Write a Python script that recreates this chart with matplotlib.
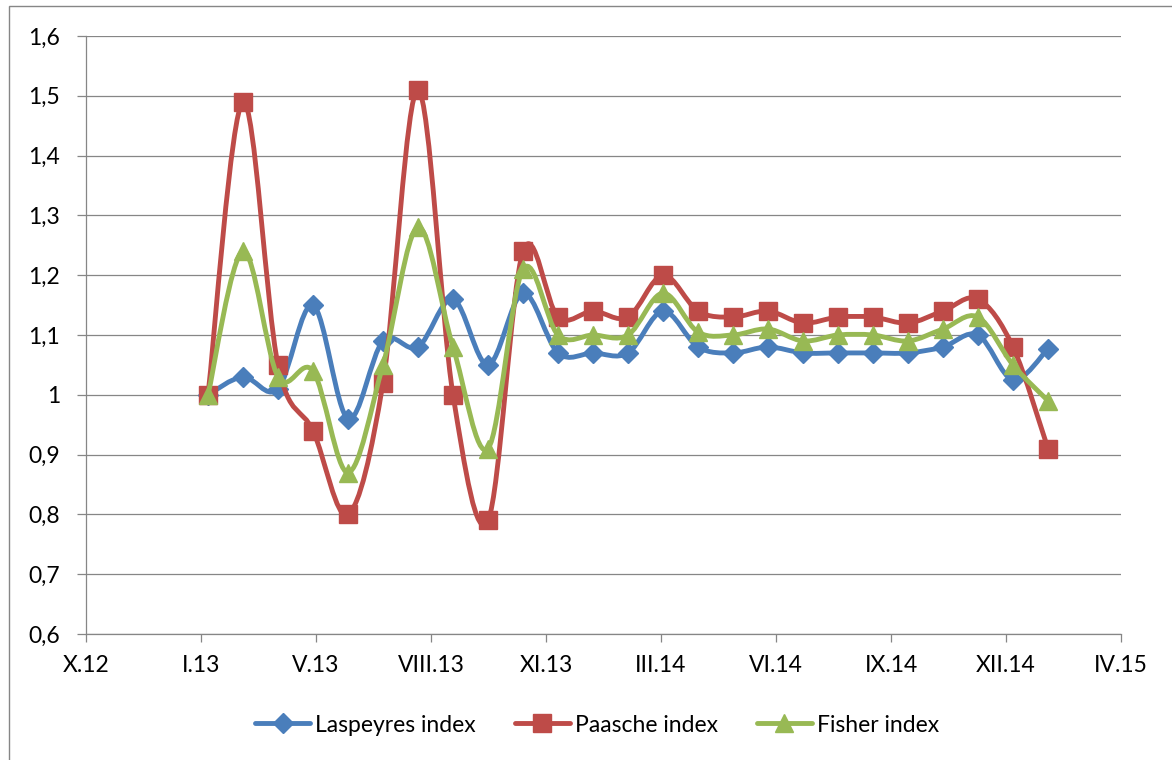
import numpy as np
import matplotlib
matplotlib.use("Agg")
import matplotlib.pyplot as plt
from matplotlib.path import Path
from matplotlib.patches import PathPatch, Rectangle
from matplotlib.lines import Line2D

# ---- data (monthly, I.2013 .. I.2015) ----
laspeyres = [1.00, 1.03, 1.01, 1.15, 0.96, 1.09, 1.08, 1.16, 1.05, 1.17, 1.07, 1.07, 1.07,
             1.14, 1.08, 1.07, 1.08, 1.07, 1.07, 1.07, 1.07, 1.08, 1.10, 1.025, 1.077]
paasche = [1.00, 1.49, 1.05, 0.94, 0.80, 1.02, 1.51, 1.00, 0.79, 1.24, 1.13, 1.14, 1.13,
           1.20, 1.14, 1.13, 1.14, 1.12, 1.13, 1.13, 1.12, 1.14, 1.16, 1.08, 0.91]
fisher = [1.00, 1.24, 1.03, 1.04, 0.87, 1.05, 1.28, 1.08, 0.91, 1.21, 1.10, 1.10, 1.10,
          1.17, 1.105, 1.10, 1.11, 1.09, 1.10, 1.10, 1.09, 1.11, 1.13, 1.05, 0.99]
series_names = ["Laspeyres index", "Paasche index", "Fisher index"]
x_tick_labels = ["X.12", "I.13", "V.13", "VIII.13", "XI.13", "III.14", "VI.14", "IX.14", "XII.14", "IV.15"]
y_ticks = [0.6, 0.7, 0.8, 0.9, 1.0, 1.1, 1.2, 1.3, 1.4, 1.5, 1.6]

colors = ["#4A7EBB", "#BE4B48", "#98B954"]
markers = ["D", "s", "^"]
msizes = [10.5, 13.0, 13.0]

plt.rcParams['font.family'] = ['Lato', 'DejaVu Sans']
FS = 16.5

W, H = 1172, 760
fig = plt.figure(figsize=(W / 100, H / 100), dpi=100)
fig.patch.set_facecolor("white")
L, R, T, B = 86, 1121, 36, 634
ax = fig.add_axes([L / W, 1 - B / H, (R - L) / W, (B - T) / H])

x = np.arange(len(laspeyres), dtype=float)


def smooth_path(xs, ys):
    pts = np.column_stack([xs, ys])
    n = len(pts)
    verts = [pts[0]]
    codes = [Path.MOVETO]
    for i in range(n - 1):
        p0 = pts[i - 1] if i > 0 else pts[i]
        p1 = pts[i]
        p2 = pts[i + 1]
        p3 = pts[i + 2] if i + 2 < n else pts[i + 1]
        c1 = p1 + (p2 - p0) / 6.0
        c2 = p2 - (p3 - p1) / 6.0
        verts += [c1, c2, p2]
        codes += [Path.CURVE4] * 3
    return Path(np.array(verts), codes)


grid_c = "#868686"
for yv in y_ticks:
    ax.axhline(yv, color=grid_c, lw=0.9, zorder=1)

LW = 3.5
handles = []
for i, (vals, name) in enumerate(zip([laspeyres, paasche, fisher], series_names)):
    p = smooth_path(x, np.array(vals))
    patch = PathPatch(p, facecolor="none", edgecolor=colors[i], lw=LW,
                      capstyle="round", joinstyle="round", zorder=3 + 2 * i)
    ax.add_patch(patch)
    ax.plot(x, vals, linestyle="none", marker=markers[i], ms=msizes[i],
            mfc=colors[i], mec=colors[i], mew=1, zorder=4 + 2 * i)
    handles.append(Line2D([], [], color=colors[i], lw=LW, marker=markers[i],
                          ms=msizes[i], mfc=colors[i], mec=colors[i], solid_capstyle="round"))

x0 = (L - 208) / 35.0
x1 = (R - 208) / 35.0
ax.set_xlim(x0, x1)
ax.set_ylim(0.6, 1.6)
ax.set_xticks(np.linspace(x0, x1, len(x_tick_labels)))
ax.set_xticklabels(x_tick_labels)
ax.set_yticks(y_ticks)
ax.set_yticklabels([("%g" % v).replace(".", ",") for v in y_ticks])

for s in ["top", "right"]:
    ax.spines[s].set_visible(False)
for s in ["left", "bottom"]:
    ax.spines[s].set_color(grid_c)
    ax.spines[s].set_linewidth(0.9)
ax.tick_params(axis="y", direction="out", length=6.5, width=0.9, color=grid_c,
               pad=12, labelsize=FS, labelcolor="black")
ax.tick_params(axis="x", direction="out", length=6, width=0.9, color=grid_c,
               pad=9, labelsize=FS, labelcolor="black")

leg = fig.legend(handles, series_names, loc="center", bbox_to_anchor=(597 / W, 1 - 725 / H),
                 ncol=3, frameon=False, fontsize=FS, handlelength=2.4,
                 handletextpad=0.22, columnspacing=1.7, borderaxespad=0)

fig.patches.append(Rectangle((9 / W, -0.1), 1.2, (H - 6) / H + 0.1, transform=fig.transFigure,
                             fill=False, edgecolor=grid_c, lw=1.0))

fig.savefig("out.png", dpi=100, facecolor="white")
